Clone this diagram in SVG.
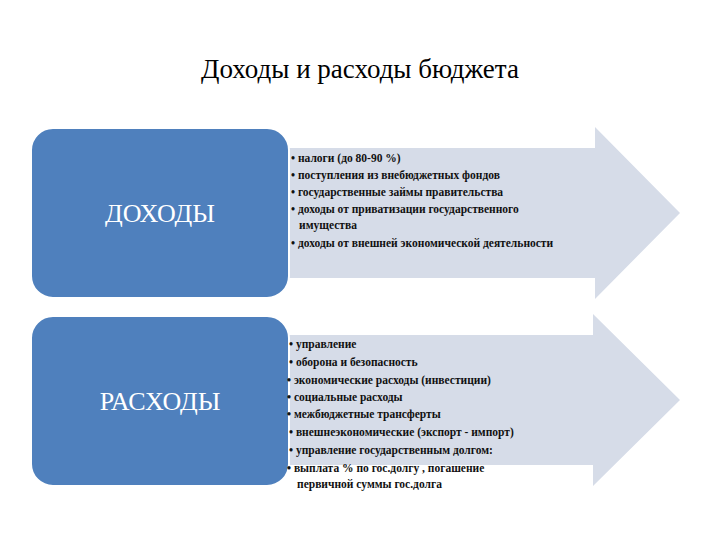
<svg xmlns="http://www.w3.org/2000/svg" width="720" height="540" viewBox="0 0 720 540">
<style>
.arr{fill:#d6dce8}
.box{fill:#4f80bd;stroke:#fff;stroke-width:2}
.big{font-family:"Liberation Serif",serif;font-size:26px;fill:#fff}
.t{font-family:"Liberation Serif",serif;font-size:11.5px;font-weight:bold;fill:#111}
</style>
<rect width="720" height="540" fill="#fff"/>
<text x="360" y="78" text-anchor="middle" font-family="Liberation Serif,serif" font-size="27" fill="#000">Доходы и расходы бюджета</text>
<g id="incomes">
<polygon class="arr" points="270,148 595,148 595,127 680,213 595,299 595,278 270,278"/>
<rect class="box" x="31" y="128" width="258" height="170" rx="22"/>
<text class="big" x="160" y="222" text-anchor="middle">ДОХОДЫ</text>
<text class="t" x="291" y="162">• налоги (до 80-90 %)</text>
<text class="t" x="291" y="179">• поступления из внебюджетных фондов</text>
<text class="t" x="291" y="196">• государственные займы правительства</text>
<text class="t" x="291" y="213">• доходы от приватизации государственного</text>
<text class="t" x="299" y="229">имущества</text>
<text class="t" x="291" y="247">• доходы от внешней экономической деятельности</text>
</g>
<g id="expenses">
<polygon class="arr" points="270,335 593,335 593,314 680,400 593,486 593,465 270,465"/>
<rect class="box" x="31" y="316" width="258" height="170" rx="22"/>
<text class="big" x="160" y="410" text-anchor="middle">РАСХОДЫ</text>
<text class="t" x="289" y="348">•  управление</text>
<text class="t" x="289" y="366">•  оборона и безопасность</text>
<text class="t" x="287" y="384">• экономические  расходы (инвестиции)</text>
<text class="t" x="287" y="401">• социальные расходы</text>
<text class="t" x="287" y="418">• межбюджетные трансферты</text>
<text class="t" x="289" y="436">•  внешнеэкономические (экспорт - импорт)</text>
<text class="t" x="289" y="454">•  управление государственным долгом:</text>
<text class="t" x="287" y="472">•  выплата % по гос.долгу ,  погашение</text>
<text class="t" x="297" y="488">первичной суммы гос.долга</text>
</g>
<g id="connectors"/>
</svg>
